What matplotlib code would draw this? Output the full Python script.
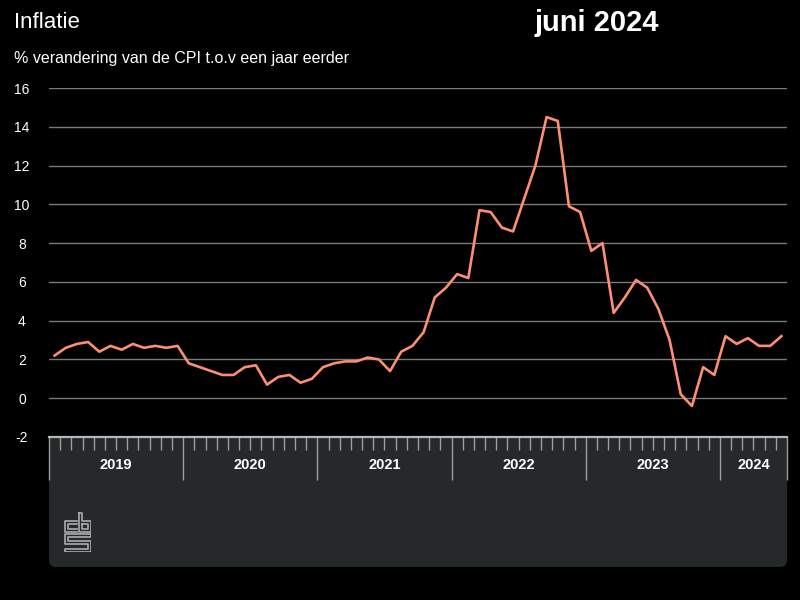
import numpy as np
import matplotlib.pyplot as plt
from matplotlib.patches import FancyBboxPatch, Rectangle
from matplotlib.transforms import blended_transform_factory

plt.rcParams['font.family'] = ['Liberation Sans', 'DejaVu Sans']
plt.rcParams['axes.unicode_minus'] = False

# CPI, % verandering t.o.v. een jaar eerder, jan 2019 - jun 2024
years = [2019, 2020, 2021, 2022, 2023, 2024]
inflatie = [
    2.2, 2.6, 2.8, 2.9, 2.4, 2.7, 2.5, 2.8, 2.6, 2.7, 2.6, 2.7,   # 2019
    1.8, 1.6, 1.4, 1.2, 1.2, 1.6, 1.7, 0.7, 1.1, 1.2, 0.8, 1.0,   # 2020
    1.6, 1.8, 1.9, 1.9, 2.1, 2.0, 1.4, 2.4, 2.7, 3.4, 5.2, 5.7,   # 2021
    6.4, 6.2, 9.7, 9.6, 8.8, 8.6, 10.3, 12.0, 14.5, 14.3, 9.9, 9.6,  # 2022
    7.6, 8.0, 4.4, 5.2, 6.1, 5.7, 4.6, 3.0, 0.2, -0.4, 1.6, 1.2,  # 2023
    3.2, 2.8, 3.1, 2.7, 2.7, 3.2,                                 # 2024
]
y_ticks = list(range(-2, 18, 2))

n = len(inflatie)
x = np.arange(n) + 0.5

fig = plt.figure(figsize=(8, 6), dpi=100, facecolor='black')

# grey band under the chart (time axis + logo)
band = FancyBboxPatch((0.49, 0.33), 7.38, 1.30,
                      boxstyle="round,pad=0,rounding_size=0.07",
                      transform=fig.dpi_scale_trans, facecolor='#262929',
                      edgecolor='none', zorder=-2)
fig.patches.append(band)
fig.patches.append(Rectangle((0.49, 1.0), 7.38, 0.63, transform=fig.dpi_scale_trans,
                             facecolor='#262929', edgecolor='none', zorder=-2))

ax = fig.add_axes([49 / 800, 1 - 437 / 600, 738 / 800, 349 / 600])
ax.set_facecolor('none')

ax.plot(x, inflatie, color='#fb8f6f', lw=1.9, zorder=3)

ax.set_xlim(0, n)
ax.set_ylim(-2, 16)

ax.set_yticks(y_ticks)
ax.grid(axis='y', color='#7a7a7a', linewidth=1)
ax.set_axisbelow(True)
ax.tick_params(axis='y', length=0, pad=19.5, labelsize=10, labelcolor='white')
for lbl in ax.get_yticklabels():
    lbl.set_ha('center')

year_starts = [12 * i for i in range(len(years))]
ax.set_xticks(year_starts + [n])
ax.set_xticks(np.arange(0, n + 1), minor=True)
ax.tick_params(axis='x', which='major', length=31, width=1, color='#9a9e9e',
               labelbottom=False)
ax.tick_params(axis='x', which='minor', length=9.5, width=1, color='#9a9e9e',
               labelbottom=False)

for s in ['top', 'right', 'left']:
    ax.spines[s].set_visible(False)
ax.spines['bottom'].set_color('#b4b8b8')
ax.spines['bottom'].set_linewidth(1.6)

trans = blended_transform_factory(ax.transData, ax.transAxes)
for yr, st in zip(years, year_starts):
    mid = (st + min(st + 12, n)) / 2
    ax.text(mid, -0.08, str(yr), transform=trans, ha='center', va='center',
            color='white', fontsize=10.5, fontweight='bold')

fig.text(14 / 800, 1 - 22 / 600, 'Inflatie', color='white', fontsize=16,
         va='center', ha='left')
fig.text(597 / 800, 1 - 23 / 600, 'juni 2024', color='white', fontsize=21,
         fontweight='bold', va='center', ha='center')
fig.text(14 / 800, 1 - 58 / 600, '% verandering van de CPI t.o.v een jaar eerder',
         color='white', fontsize=11.5, va='center', ha='left')

# cbs logo
lg = fig.add_axes([64 / 800, 1 - 552 / 600, 27 / 800, 40 / 600])
lg.set_xlim(-0.5, 26.5)
lg.set_ylim(39.5, -0.5)
lg.axis('off')
logo_col = '#a8acac'
lg.plot([12, 0, 0, 12], [8, 8, 19, 19], color=logo_col, lw=1.2)
lg.plot([12, 3, 3, 12], [11, 11, 16, 16], color=logo_col, lw=1.2)
lg.plot([14, 14, 26, 26, 17, 17, 14], [0, 19, 19, 8, 8, 0, 0], color=logo_col, lw=1.2)
lg.plot([17, 23, 23, 17, 17], [11, 11, 16, 16, 11], color=logo_col, lw=1.2)
lg.plot([26, 0, 0, 23, 23, 0, 0, 26, 26, 3, 3, 26, 26],
        [21, 21, 31, 31, 36, 36, 39, 39, 28, 28, 24, 24, 21], color=logo_col, lw=1.2)

fig.savefig('out.png', dpi=100, facecolor='black')
